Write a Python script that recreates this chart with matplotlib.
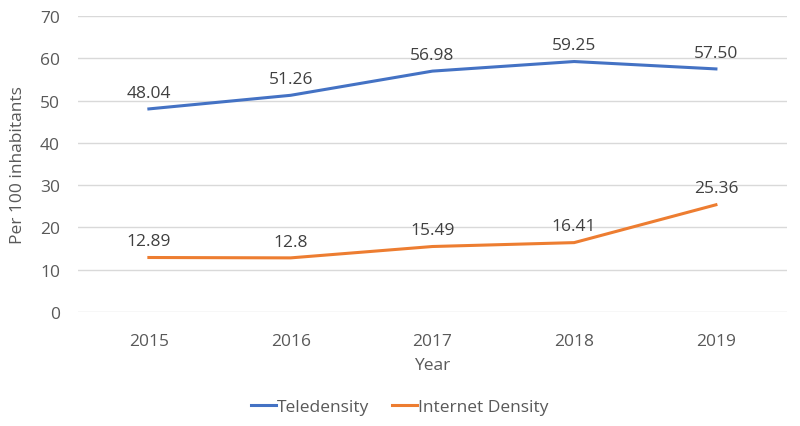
import matplotlib.pyplot as plt

years = ["2015", "2016", "2017", "2018", "2019"]
teledensity = [48.04, 51.26, 56.98, 59.25, 57.50]
internet = [12.89, 12.8, 15.49, 16.41, 25.36]
tele_labels = ["48.04", "51.26", "56.98", "59.25", "57.50"]
inet_labels = ["12.89", "12.8", "15.49", "16.41", "25.36"]

plt.rcParams["font.family"] = ["Open Sans", "DejaVu Sans"]
txt = "#595959"
fs = 12.5

fig = plt.figure(figsize=(8, 4.27), dpi=100)
ax = fig.add_axes([0.0975, 0.267, 0.886, 0.693])

x = range(len(years))
ax.plot(x, teledensity, color="#4472C4", lw=2.2, label="Teledensity")
ax.plot(x, internet, color="#ED7D31", lw=2.2, label="Internet Density")

for i in x:
    ax.annotate(tele_labels[i], (i, teledensity[i]), xytext=(0, 6), textcoords="offset points",
                ha="center", va="bottom", fontsize=fs, color="#404040")
    ax.annotate(inet_labels[i], (i, internet[i]), xytext=(0, 6), textcoords="offset points",
                ha="center", va="bottom", fontsize=fs, color="#404040")

ax.set_xlim(-0.5, len(years) - 0.5)
ax.set_ylim(0, 70)
ax.set_yticks(range(0, 71, 10))
ax.set_xticks(list(x))
ax.set_xticklabels(years)
ax.grid(axis="y", color="#D9D9D9", lw=1)
ax.set_axisbelow(True)
for s in ax.spines.values():
    s.set_visible(False)
ax.tick_params(length=0, labelsize=fs, colors=txt, pad=15)
ax.tick_params(axis="y", pad=13)
ax.set_xlabel("Year", fontsize=fs, color=txt, labelpad=6)
ax.set_ylabel("Per 100 inhabitants", fontsize=fs, color=txt, labelpad=10)

leg = fig.legend(loc="lower center", bbox_to_anchor=(0.5, -0.012), ncol=2, frameon=False,
                 fontsize=fs, handlelength=1.4, handletextpad=0.1, columnspacing=1.3)
for t in leg.get_texts():
    t.set_color(txt)

fig.savefig("out.png", dpi=100)
